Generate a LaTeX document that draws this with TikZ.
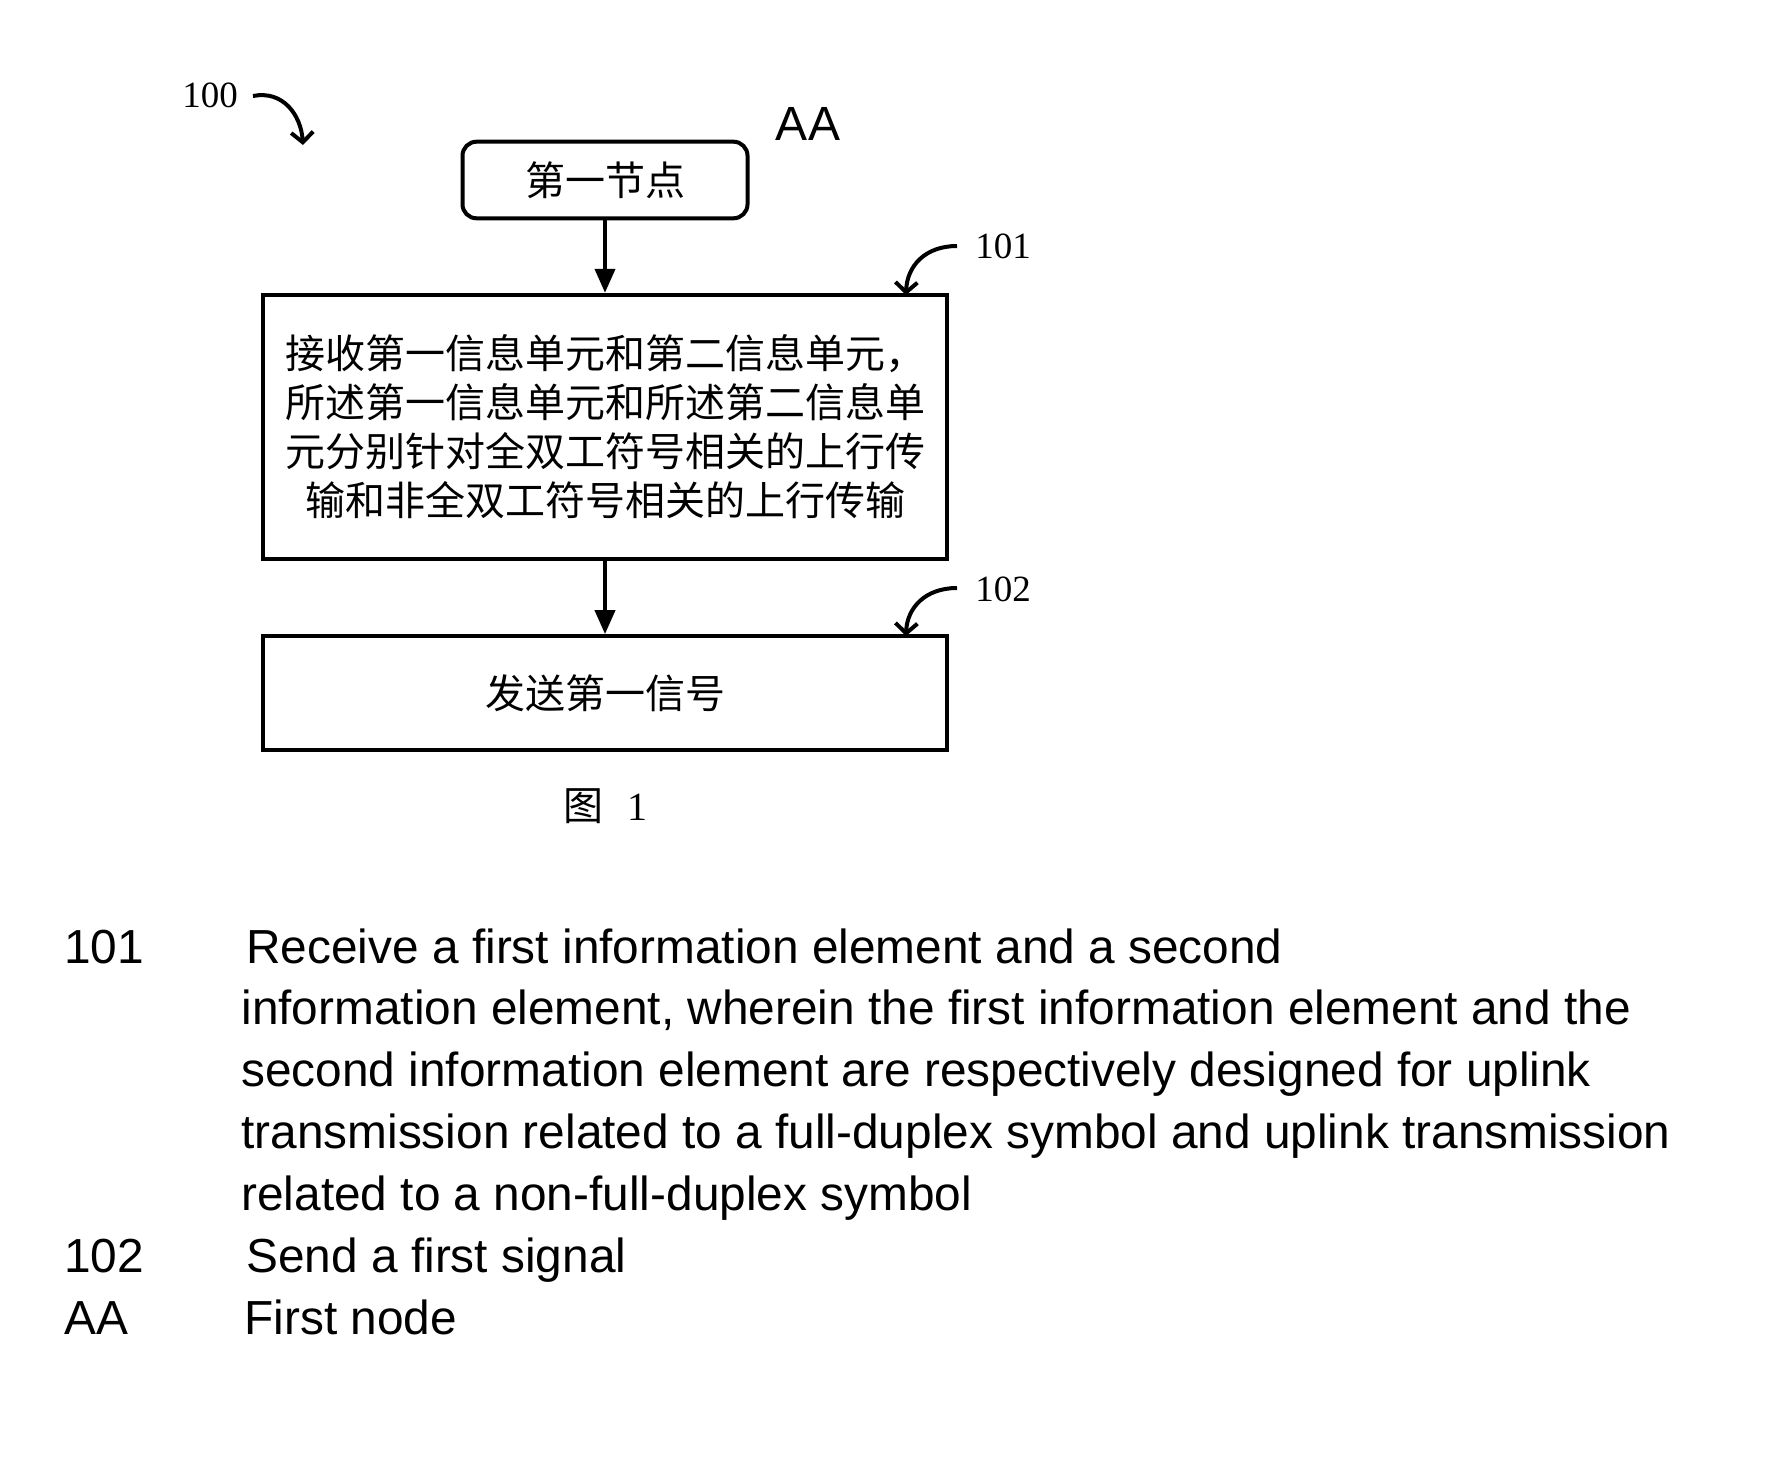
\documentclass[tikz,border=0pt]{standalone}
\usepackage{fontspec}
\setmainfont{Liberation Serif}
\newfontfamily\arialf{Liberation Sans}
\newfontfamily\cjkf{Noto Sans CJK SC}
\usetikzlibrary{arrows.meta}
\begin{document}
\begin{tikzpicture}[x=0.5pt,y=-0.5pt,
  box/.style={draw,line width=2pt,inner sep=0pt,font=\cjkf\fontsize{20}{24.5}\selectfont,align=center},
  flow/.style={line width=2pt,-{Triangle[length=12pt,width=10pt]}},
  curl/.style={line width=2pt,-{Straight Barb[length=5pt,width=11pt]}},
  reflab/.style={font=\fontsize{18.5}{20}\selectfont,inner sep=0pt},
  leg/.style={font=\arialf\fontsize{23.9}{28}\selectfont,anchor=west,inner sep=0pt,text height=0.72em,text depth=0pt}]
\useasboundingbox[fill=white] (0,0) rectangle (1765,1462);
% reference 100
\node[reflab] (l100) at (210,95) {100};
\coordinate (s100) at (253,96);
\coordinate (e100) at (303,145);
\draw[curl] (s100) .. controls (283,90) and (301,115) .. (e100);
% AA
\node[font=\arialf\fontsize{24}{28}\selectfont,inner sep=0pt] (aa) at (808,124) {AA};
% boxes
\node[box,rounded corners=7pt,minimum width=142.5pt,minimum height=38.3pt] (n0) at (605,180) {第一节点};
\node[box,minimum width=341.6pt,minimum height=132.2pt] (n1) at (605,427) {接收第一信息单元和第二信息单元，\\所述第一信息单元和所述第二信息单\\元分别针对全双工符号相关的上行传\\输和非全双工符号相关的上行传输};
\node[box,minimum width=341.6pt,minimum height=56.9pt] (n2) at (605,693) {发送第一信号};
\draw[flow] (n0.south) -- (n1.north);
\draw[flow] (n1.south) -- (n2.north);
% reference 101 / 102
\node[reflab] (l101) at (1003,246) {101};
\coordinate (s101) at (957,246);
\coordinate (e101) at (906,295);
\draw[curl] (s101) .. controls (925,246) and (907,266) .. (e101);
\node[reflab] (l102) at (1003,589) {102};
\coordinate (s102) at (957,588);
\coordinate (e102) at (906,636);
\draw[curl] (s102) .. controls (925,588) and (907,608) .. (e102);
% caption
\node[font=\fontsize{20}{24}\selectfont,inner sep=0pt] (fig) at (605,806) {{\cjkf 图}\hspace{12pt}1};
% legend
\node[leg] (k1) at (64,956) {101};
\node[leg] (t1a) at (246,956) {Receive a first information element and a second};
\node[leg] (t1b) at (241,1017.5) {information element, wherein the first information element and the};
\node[leg] (t1c) at (241,1079.4) {second information element are respectively designed for uplink};
\node[leg] (t1d) at (241,1141.3) {transmission related to a full-duplex symbol and uplink transmission};
\node[leg] (t1e) at (241,1203.2) {related to a non-full-duplex symbol};
\node[leg] (k2) at (64,1265) {102};
\node[leg] (t2) at (246,1265) {Send a first signal};
\node[leg] (k3) at (64,1327) {AA};
\node[leg] (t3) at (244,1327) {First node};
\end{tikzpicture}
\end{document}
